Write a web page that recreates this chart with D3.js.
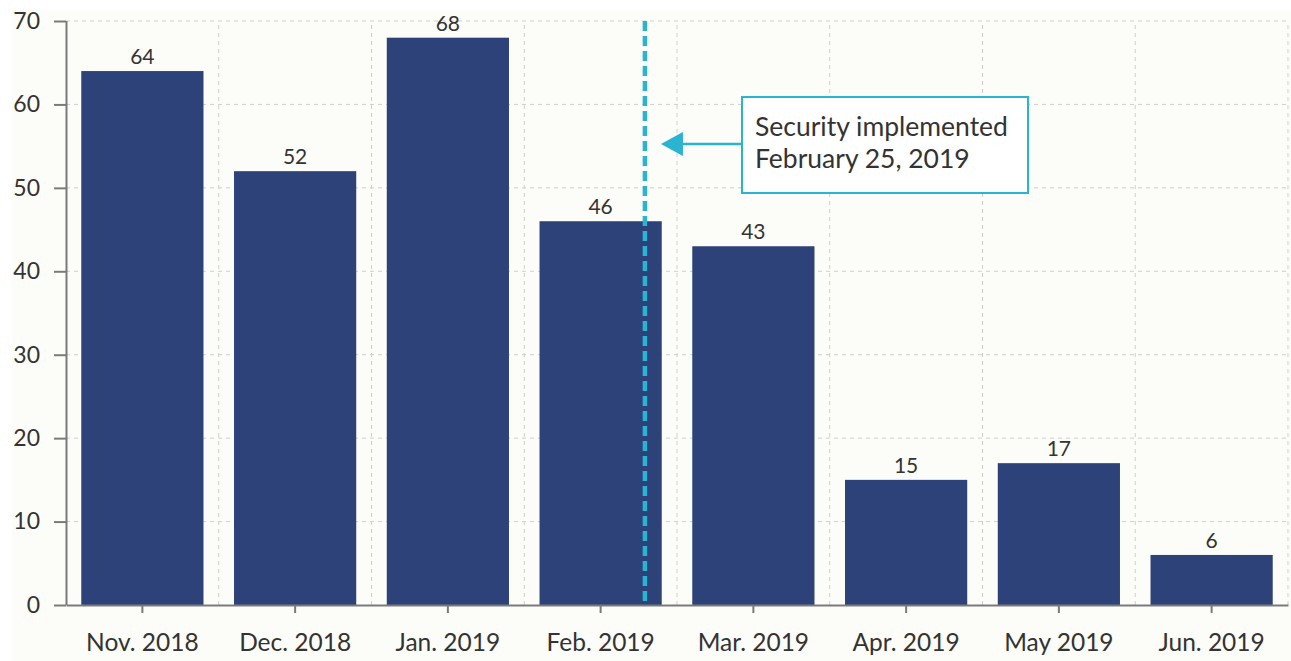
<!DOCTYPE html>
<html>
<head>
<meta charset="utf-8">
<script src="https://cdn.jsdelivr.net/npm/d3@7"></script>
<style>
  html, body { margin: 0; padding: 0; background: #ffffff; }
  svg { display: block; font-family: Lato, "Open Sans", sans-serif; }
</style>
</head>
<body>
<div id="chart"></div>
<script>
// data
var months = ["Nov. 2018", "Dec. 2018", "Jan. 2019", "Feb. 2019", "Mar. 2019", "Apr. 2019", "May 2019", "Jun. 2019"];
var counts = [64, 52, 68, 46, 43, 15, 17, 6];
var yTicks = [0, 10, 20, 30, 40, 50, 60, 70];
var eventMonth = "Feb. 2019";
var eventDayFraction = 0.79; // Feb 25 sits this far into the Feb band step
var noteLines = ["Security implemented", "February 25, 2019"];

var width = 1291,
    height = 661,
    margin = {top: 21, right: 3, bottom: 56, left: 66},
    barColor = "#2c4279",
    accent = "#2ab4d1",
    gridColor = "#cfcfcf",
    axisColor = "#7a7a7a",
    textColor = "#333333";

var svg = d3.select("#chart").append("svg")
    .attr("width", width)
    .attr("height", height);

svg.append("rect")
    .attr("x", 12).attr("y", 10)
    .attr("width", width - 12).attr("height", height - 10)
    .attr("fill", "#fcfcf8");

var x = d3.scaleBand()
    .domain(months)
    .range([margin.left, width - margin.right])
    .paddingInner(0.2)
    .paddingOuter(0.1);

var y = d3.scaleLinear()
    .domain([0, 70])
    .range([height - margin.bottom, margin.top]);

var g = svg.append("g");

// horizontal grid
g.append("g").selectAll("line")
    .data(yTicks.filter(function(d){ return d > 0; }))
    .enter().append("line")
    .attr("x1", margin.left).attr("x2", width - margin.right)
    .attr("y1", function(d){ return y(d); })
    .attr("y2", function(d){ return y(d); })
    .attr("stroke", gridColor)
    .attr("stroke-dasharray", "4,4");

// vertical grid at band boundaries
var step = x.step();
g.append("g").selectAll("line")
    .data(months)
    .enter().append("line")
    .attr("x1", function(d){ return x(d) + x.bandwidth() + (step - x.bandwidth()) / 2; })
    .attr("x2", function(d){ return x(d) + x.bandwidth() + (step - x.bandwidth()) / 2; })
    .attr("y1", y(0)).attr("y2", y(70))
    .attr("stroke", gridColor)
    .attr("stroke-dasharray", "4,4");

// bars
g.append("g").selectAll("rect")
    .data(counts)
    .enter().append("rect")
    .attr("x", function(d, i){ return x(months[i]); })
    .attr("y", function(d){ return y(d); })
    .attr("width", x.bandwidth())
    .attr("height", function(d){ return y(0) - y(d); })
    .attr("fill", barColor);

// value labels
g.append("g").selectAll("text")
    .data(counts)
    .enter().append("text")
    .attr("x", function(d, i){ return x(months[i]) + x.bandwidth() / 2; })
    .attr("y", function(d){ return y(d) - 7; })
    .attr("text-anchor", "middle")
    .attr("font-size", 21)
    .attr("fill", textColor)
    .text(function(d){ return d; });

// axes
var yAxis = svg.append("g")
    .attr("transform", "translate(" + margin.left + ",0)")
    .call(d3.axisLeft(y).tickValues(yTicks).tickSize(12).tickPadding(14));
var xAxis = svg.append("g")
    .attr("transform", "translate(0," + y(0) + ")")
    .call(d3.axisBottom(x).tickSize(8).tickPadding(21).tickSizeOuter(0));

[yAxis, xAxis].forEach(function(a){
    a.select(".domain").attr("stroke", axisColor).attr("stroke-width", 2);
    a.selectAll(".tick line").attr("stroke", axisColor).attr("stroke-width", 2);
    a.selectAll("text").attr("fill", textColor).attr("font-family", "Lato, sans-serif");
});
yAxis.selectAll("text").attr("font-size", 23);
xAxis.selectAll("text").attr("font-size", 24.5);
yAxis.select(".domain").attr("d", "M0.5," + y(70) + "V" + y(0));

// event line
var ex = x(eventMonth) - (step - x.bandwidth()) / 2 + eventDayFraction * step;
svg.append("line")
    .attr("x1", ex).attr("x2", ex)
    .attr("y1", y(70)).attr("y2", y(0))
    .attr("stroke", accent)
    .attr("stroke-width", 4.5)
    .attr("stroke-dasharray", "10,5");

// annotation box
var box = {x: 742, y: 97, w: 286, h: 96};
svg.append("rect")
    .attr("x", box.x).attr("y", box.y)
    .attr("width", box.w).attr("height", box.h)
    .attr("fill", "#ffffff")
    .attr("stroke", accent)
    .attr("stroke-width", 2);

svg.append("g").selectAll("text")
    .data(noteLines)
    .enter().append("text")
    .attr("x", box.x + 13)
    .attr("y", function(d, i){ return box.y + 39 + i * 32; })
    .attr("font-size", 26.5)
    .attr("fill", textColor)
    .text(function(d){ return d; });

// arrow
var ay = box.y + 47;
svg.append("line")
    .attr("x1", box.x).attr("x2", ex + 30)
    .attr("y1", ay).attr("y2", ay)
    .attr("stroke", accent).attr("stroke-width", 2.5);
svg.append("path")
    .attr("d", "M" + (ex + 16) + "," + ay + "L" + (ex + 38) + "," + (ay - 12) + "L" + (ex + 38) + "," + (ay + 12) + "Z")
    .attr("fill", accent);
</script>
</body>
</html>
